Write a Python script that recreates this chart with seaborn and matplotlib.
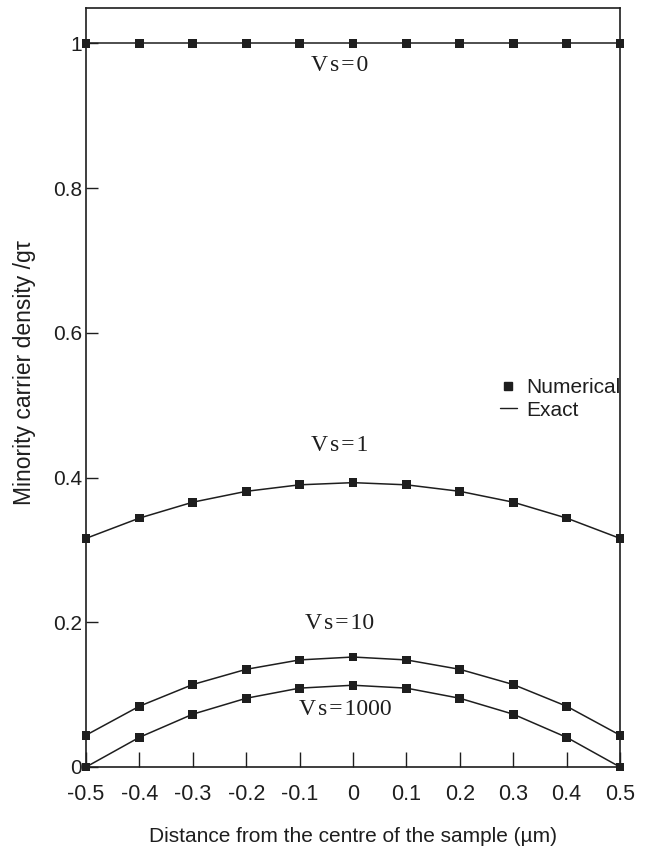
import matplotlib
matplotlib.use("Agg")
import matplotlib.pyplot as plt
from matplotlib.lines import Line2D
import seaborn as sns
import pandas as pd

# ---- data ----
x_pos = [-0.5, -0.4, -0.3, -0.2, -0.1, 0.0, 0.1, 0.2, 0.3, 0.4, 0.5]
vs0 = [1.0, 1.0, 1.0, 1.0, 1.0, 1.0, 1.0, 1.0, 1.0, 1.0, 1.0]
vs1 = [0.316, 0.344, 0.366, 0.381, 0.390, 0.393, 0.390, 0.381, 0.366, 0.344, 0.316]
vs10 = [0.044, 0.084, 0.114, 0.135, 0.148, 0.152, 0.148, 0.135, 0.114, 0.084, 0.044]
vs1000 = [0.0, 0.041, 0.073, 0.095, 0.109, 0.113, 0.109, 0.095, 0.073, 0.041, 0.0]
series_names = ["Vs=0", "Vs=1", "Vs=10", "Vs=1000"]
x_ticks = [-0.5, -0.4, -0.3, -0.2, -0.1, 0.0, 0.1, 0.2, 0.3, 0.4, 0.5]
x_tick_labels = ["-0.5", "-0.4", "-0.3", "-0.2", "-0.1", "0", "0.1", "0.2", "0.3", "0.4", "0.5"]
y_ticks = [0, 0.2, 0.4, 0.6, 0.8, 1.0]
y_tick_labels = ["0", "0.2", "0.4", "0.6", "0.8", "1"]
label_pos = {"Vs=0": (-0.025, 0.970), "Vs=1": (-0.025, 0.445),
             "Vs=10": (-0.025, 0.198), "Vs=1000": (-0.015, 0.079)}

frames = []
for name, vals in zip(series_names, [vs0, vs1, vs10, vs1000]):
    frames.append(pd.DataFrame({"x": x_pos, "n": vals, "Vs": name}))
df = pd.concat(frames, ignore_index=True)

sns.set_style("ticks")
plt.rcParams["font.family"] = ["Liberation Sans", "DejaVu Sans"]

fig = plt.figure(figsize=(6.49, 8.48), dpi=100)
ax = fig.add_axes([86 / 649, 1 - 767 / 848, (620 - 86) / 649, (767 - 8) / 848])

ink = "#1e1e1e"
pal = {n: ink for n in series_names}
sns.lineplot(data=df, x="x", y="n", hue="Vs", palette=pal, linewidth=1.1,
             legend=False, ax=ax, estimator=None, sort=True)
sns.scatterplot(data=df, x="x", y="n", hue="Vs", palette=pal, marker="s",
                s=40, edgecolor=ink, linewidth=0, legend=False, ax=ax,
                zorder=5)
for coll in ax.collections:
    coll.set_clip_on(False)


def spaced(label):
    # typeset with slight letter spacing like the original
    return "\u200a".join(label.replace("Vs", "V\u2009s").split("\u200a"))


for name in series_names:
    lx, ly = label_pos[name]
    txt = name.replace("Vs", "V\u200as\u200a").replace("=", "=\u200a")
    ax.text(lx, ly, txt, ha="center", va="center", fontsize=17,
            family=["Liberation Serif", "DejaVu Serif"], color=ink)

ax.set_xlim(-0.5, 0.5)
ax.set_ylim(0, 1.049)
ax.set_xticks(x_ticks)
ax.set_xticklabels(x_tick_labels)
ax.set_yticks(y_ticks)
ax.set_yticklabels(y_tick_labels)
ax.tick_params(axis="x", direction="in", length=11, width=1.0, labelsize=15.5,
               pad=12, colors=ink)
ax.tick_params(axis="y", direction="in", length=8.5, width=1.0, labelsize=15,
               pad=3, colors=ink)
for sp in ax.spines.values():
    sp.set_linewidth(1.2)
    sp.set_color(ink)

ax.set_xlabel("Distance from the centre of the sample (\u00b5m)", fontsize=15,
              color=ink, labelpad=16)
ax.set_ylabel("Minority carrier density /g\u03c4", fontsize=16.5, color=ink)
ax.yaxis.set_label_coords(-0.094, 0.52)

handles = [Line2D([0], [0], marker="s", color=ink, linestyle="none",
                  markersize=6),
           Line2D([0], [0], color=ink, linewidth=1.0)]
ax.legend(handles, ["Numerical", "Exact"], loc="upper left",
          bbox_to_anchor=(0.775, 0.512), frameon=False, fontsize=15,
          handlelength=0.8, handletextpad=0.45, borderpad=0,
          borderaxespad=0, labelspacing=0.15, labelcolor=ink)

fig.savefig("out.png", dpi=100, facecolor="white")
